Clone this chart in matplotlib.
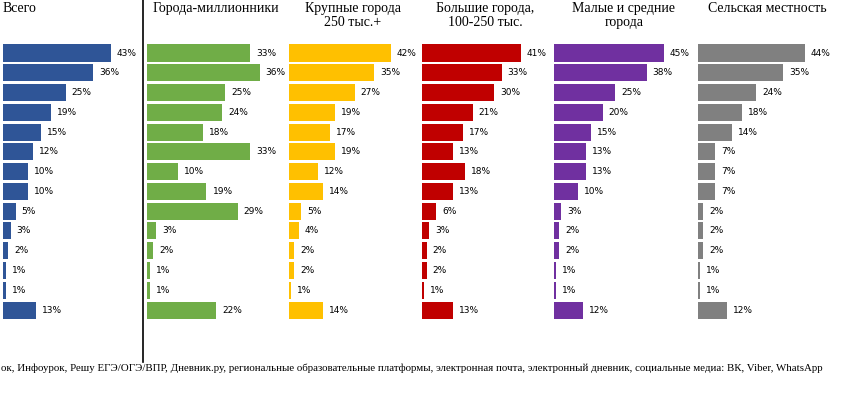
import matplotlib
matplotlib.use("Agg")
import matplotlib.pyplot as plt
from matplotlib.lines import Line2D

W, H = 844, 397

titles = ["Всего", "Города-миллионники", "Крупные города\n250 тыс.+",
          "Большие города,\n100-250 тыс.", "Малые и средние\nгорода", "Сельская местность"]
vsego = [43, 36, 25, 19, 15, 12, 10, 10, 5, 3, 2, 1, 1, 13]
millionniki = [33, 36, 25, 24, 18, 33, 10, 19, 29, 3, 2, 1, 1, 22]
krupnye = [42, 35, 27, 19, 17, 19, 12, 14, 5, 4, 2, 2, 1, 14]
bolshie = [41, 33, 30, 21, 17, 13, 18, 13, 6, 3, 2, 2, 1, 13]
malye = [45, 38, 25, 20, 15, 13, 13, 10, 3, 2, 2, 1, 1, 12]
selskaya = [44, 35, 24, 18, 14, 7, 7, 7, 2, 2, 2, 1, 1, 12]
footnote = ("ок, Инфоурок, Решу ЕГЭ/ОГЭ/ВПР, Дневник.ру, региональные образовательные платформы, "
            "электронная почта, электронный дневник, социальные медиа: ВК, Viber, WhatsApp")

series = [vsego, millionniki, krupnye, bolshie, malye, selskaya]
colors = ["#2F5597", "#70AD47", "#FFC000", "#C00000", "#7030A0", "#808080"]
starts = [3, 147, 289, 422, 554, 698]      # px
scales = [2.5, 3.13, 2.43, 2.41, 2.44, 2.43]  # px per percent
title_x = [3, 216, 353, 485, 624, 767]
title_ha = ["left", "center", "center", "center", "center", "center"]

fig = plt.figure(figsize=(W / 100, H / 100), dpi=100)
fig.patch.set_facecolor("white")

row0, step = 53.0, 19.77
panel_w = 140
for vals, col, st, sc in zip(series, colors, starts, scales):
    ax = fig.add_axes([st / W, 0, panel_w / W, 1])
    ax.set_xlim(0, panel_w / sc)
    ax.set_ylim((H - row0) / step, -row0 / step)
    ax.axis("off")
    ys = list(range(len(vals)))
    ax.barh(ys, vals, height=0.86, color=col, edgecolor="none")
    for y, v in zip(ys, vals):
        ax.text(v + 6 / sc, y, f"{v}%", va="center", ha="left", fontsize=6.5,
                family="DejaVu Sans", color="black", clip_on=False)

for t, x, ha in zip(titles, title_x, title_ha):
    fig.text(x / W, 1 - 2 / H, t, ha=ha, va="top", fontsize=10,
             family="Liberation Serif", linespacing=1.1, color="black")

fig.add_artist(Line2D([143 / W, 143 / W], [1, 1 - 362 / H], color="black", lw=1.2))

fig.text(1 / W, 1 - 368 / H, footnote, ha="left", va="center", fontsize=7.85,
         family="Liberation Serif", color="black")

fig.savefig("out.png", dpi=100)
